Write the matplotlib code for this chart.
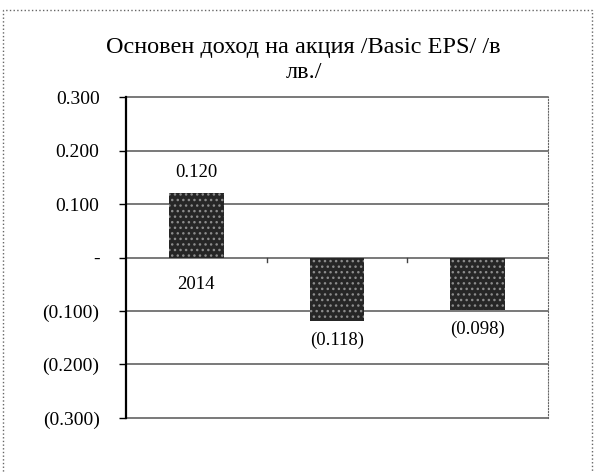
import matplotlib
matplotlib.use('agg')
import matplotlib.pyplot as plt
from matplotlib.patches import Rectangle
import numpy as np

years = ["2014", "2015", "2016"]
eps = [0.120, -0.118, -0.098]
yticks = [0.3, 0.2, 0.1, 0.0, -0.1, -0.2, -0.3]
ytick_labels = ["0.300", "0.200", "0.100", "-", "(0.100)", "(0.200)", "(0.300)"]
title = "Основен доход на акция /Basic EPS/ /в\nлв./"

plt.rcParams['font.family'] = ['Liberation Serif', 'DejaVu Serif']

def fmt(v):
    return "(%.3f)" % abs(v) if v < 0 else "%.3f" % v

fig = plt.figure(figsize=(6.11, 4.73), dpi=100)
ax = fig.add_axes([0.2062, 0.1163, 0.6907, 0.6786])

x = np.arange(len(years))
# category labels sit on the zero line, behind the bars
for xi, yr in zip(x, years):
    ax.text(xi, -0.05, yr, ha='center', va='center', fontsize=13.5, zorder=1)
ax.bar(x, eps, width=0.39, color='#262626', edgecolor='#8c8c8c', hatch='...',
       linewidth=0, zorder=3)
for xi, v in zip(x, eps):
    off = 0.039 if v > 0 else -0.037
    ax.text(xi, v + off, fmt(v), ha='center', va='center', fontsize=13.5, zorder=4)

ax.set_xlim(-0.5, 2.5)
ax.set_ylim(-0.3, 0.3)
ax.set_yticks(yticks)
ax.set_yticklabels(ytick_labels, fontsize=14)
ax.tick_params(axis='y', length=5, width=1, pad=14)
ax.set_xticks([])
for y in yticks:
    ax.axhline(y, color='#555555', lw=1.1, zorder=2, clip_on=False)
# category separator ticks on the zero line
for b in [0.5, 1.5]:
    ax.plot([b, b], [0, -0.008], color='#444444', lw=1, zorder=2)

for s in ['top', 'bottom']:
    ax.spines[s].set_visible(False)
ax.spines['left'].set_linewidth(1.6)
ax.spines['right'].set_color('#666666')
ax.spines['right'].set_linestyle(':')

fig.text(0.497, 0.873, title, ha='center', va='center', fontsize=17.5, linespacing=1.3)
fig.patches.append(Rectangle((3 / 611, -0.01), 589 / 611, 1 - 10 / 473 + 0.01,
                             transform=fig.transFigure, fill=False,
                             edgecolor='#666666', lw=1, linestyle=':'))

fig.savefig("out.png", dpi=100)
